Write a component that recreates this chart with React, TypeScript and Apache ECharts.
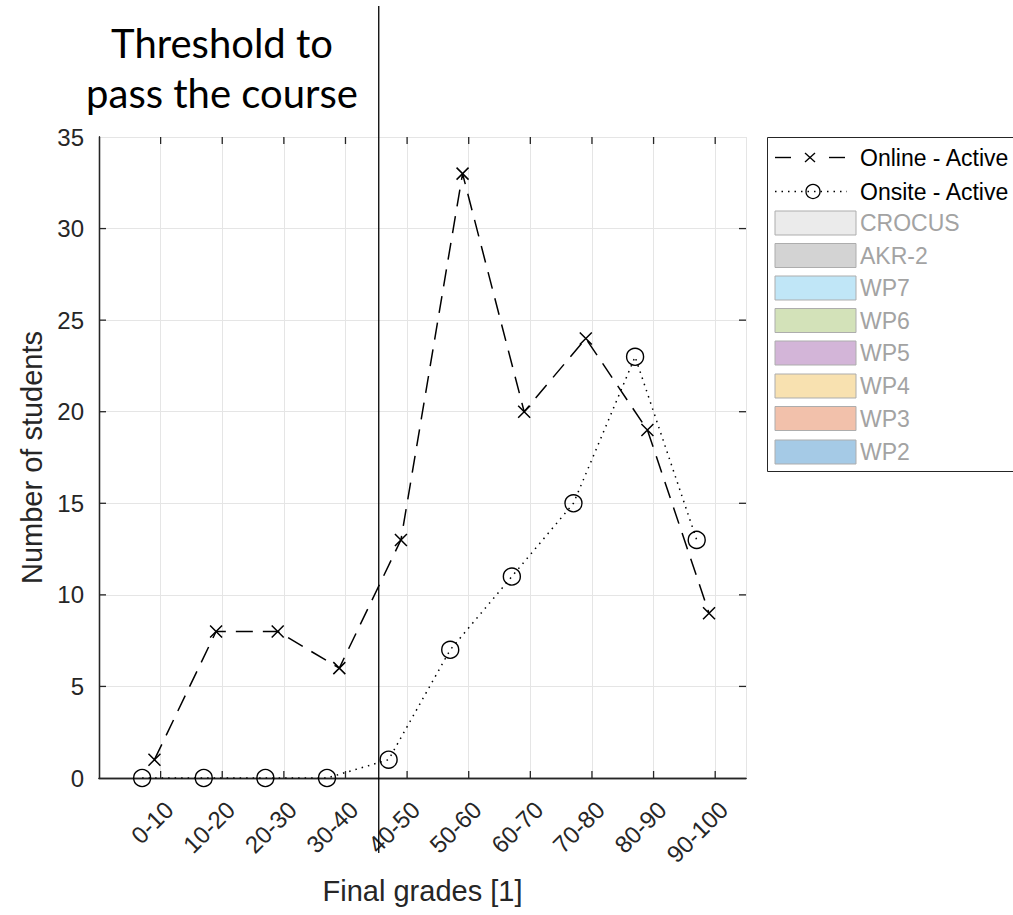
import React, { useEffect, useRef } from 'react';
import * as echarts from 'echarts';

const categories = ['0-10', '10-20', '20-30', '30-40', '40-50', '50-60', '60-70', '70-80', '80-90', '90-100'];
const onlineActive = [1, 8, 8, 6, 13, 33, 20, 24, 19, 9];
const onsiteActive = [0, 0, 0, 0, 1, 7, 11, 15, 23, 13];
const onlineOffset = -0.1;
const onsiteOffset = -0.3;
const thresholdX = 4.54;
const yMin = 0;
const yMax = 35;
const yInterval = 5;
const xMin = 0;
const xMax = 10.5;

const lineLegendNames = ['Online - Active', 'Onsite - Active'];
const patchNames = ['CROCUS', 'AKR-2', 'WP7', 'WP6', 'WP5', 'WP4', 'WP3', 'WP2'];
const patchColors = ['#ebebeb', '#d3d3d3', '#c0e6f7', '#d3e2b9', '#d3b5d8', '#f8e1b0', '#f2c1ab', '#a5cae6'];

const FONT = "'Liberation Sans', Arial, Helvetica, sans-serif";
const AX = '#262626';
const GRID = '#e5e5e5';
const X_PATH = 'path://M0,0L10,10M10,0L0,10';
const TICK_LEN = 7;

export default function App() {
  const ref = useRef<HTMLDivElement>(null);
  useEffect(() => {
    const chart = echarts.init(ref.current!, null, { renderer: 'svg' });
    const fmt = (v: number) => (Number.isInteger(v) && v >= 1 && v <= categories.length ? categories[v - 1] : '');
    chart.setOption({
      animation: false,
      backgroundColor: '#ffffff',
      grid: { left: 99, right: 267, top: 137, bottom: 137, containLabel: false },
      xAxis: [
        {
          type: 'value', min: xMin, max: xMax, interval: 1, position: 'bottom',
          name: 'Final grades [1]', nameLocation: 'middle', nameGap: 98,
          nameTextStyle: { fontFamily: FONT, fontSize: 29, color: AX },
          axisLine: { show: true, lineStyle: { color: AX, width: 1.3 } },
          axisTick: { show: false },
          axisLabel: { formatter: fmt, rotate: 45, margin: 19, verticalAlign: 'top', fontFamily: FONT, fontSize: 24, color: AX, showMinLabel: false, showMaxLabel: false },
          splitLine: { show: true, lineStyle: { color: GRID, width: 1 } },
        },
        {
          type: 'value', min: xMin, max: xMax, interval: 1, position: 'top',
          axisLine: { show: true, lineStyle: { color: AX, width: 1.3 } },
          axisTick: { show: false },
          axisLabel: { show: false },
          splitLine: { show: false },
        },
      ],
      yAxis: [
        {
          type: 'value', min: yMin, max: yMax, interval: yInterval, position: 'left',
          name: 'Number of students', nameLocation: 'middle', nameGap: 51,
          nameTextStyle: { fontFamily: FONT, fontSize: 29, color: AX },
          axisLine: { show: true, lineStyle: { color: AX, width: 1.3 } },
          axisTick: { show: false },
          axisLabel: { margin: 15, fontFamily: FONT, fontSize: 24, color: AX },
          splitLine: { show: true, lineStyle: { color: GRID, width: 1 } },
        },
        {
          type: 'value', min: yMin, max: yMax, interval: yInterval, position: 'right',
          axisLine: { show: true, lineStyle: { color: AX, width: 1.3 } },
          axisTick: { show: false },
          axisLabel: { show: false },
          splitLine: { show: false },
        },
      ],
      series: [
        {
          name: lineLegendNames[0], type: 'line', xAxisIndex: 0, yAxisIndex: 0,
          data: onlineActive.map((v, i) => [i + 1 + onlineOffset, v]),
          symbol: X_PATH, symbolSize: 12,
          itemStyle: { color: 'rgba(0,0,0,0)', borderColor: '#000', borderWidth: 1.5 },
          lineStyle: { color: '#000', width: 1.5, type: [17, 10] },
          z: 3,
        },
        {
          name: lineLegendNames[1], type: 'line', xAxisIndex: 0, yAxisIndex: 0,
          data: onsiteActive.map((v, i) => [i + 1 + onsiteOffset, v]),
          symbol: 'circle', symbolSize: 17,
          itemStyle: { color: 'rgba(0,0,0,0)', borderColor: '#000', borderWidth: 1.4 },
          lineStyle: { color: '#000', width: 1.5, type: [1.5, 5] },
          z: 3,
        },
      ],
    });

    const px = (v: number) => chart.convertToPixel({ xAxisIndex: 0 }, v) as number;
    const py = (v: number) => chart.convertToPixel({ yAxisIndex: 0 }, v) as number;
    const xL = px(xMin);
    const xR = px(xMax);
    const yB = py(yMin);
    const yT = py(yMax);
    const graphics: any[] = [];
    const tickStyle = { stroke: AX, lineWidth: 1.3 };
    // inward ticks on all four sides
    categories.forEach((_, i) => {
      const x = px(i + 1);
      graphics.push({ type: 'line', z: 5, shape: { x1: x, y1: yB, x2: x, y2: yB - TICK_LEN }, style: tickStyle });
      graphics.push({ type: 'line', z: 5, shape: { x1: x, y1: yT, x2: x, y2: yT + TICK_LEN }, style: tickStyle });
    });
    for (let v = yMin + yInterval; v < yMax; v += yInterval) {
      const y = py(v);
      graphics.push({ type: 'line', z: 5, shape: { x1: xL, y1: y, x2: xL + TICK_LEN, y2: y }, style: tickStyle });
      graphics.push({ type: 'line', z: 5, shape: { x1: xR, y1: y, x2: xR - TICK_LEN, y2: y }, style: tickStyle });
    }

    const tx = px(thresholdX);
    graphics.push({
      type: 'line', z: 20,
      shape: { x1: tx, y1: 6, x2: tx, y2: 853 },
      style: { stroke: '#000', lineWidth: 1.3 },
    });
    graphics.push({
      type: 'text', z: 20, x: 222, y: 68,
      style: {
        text: 'Threshold to\npass the course', fill: '#000',
        fontFamily: "Lato, 'Open Sans', sans-serif", fontSize: 40, lineHeight: 50,
        align: 'center', verticalAlign: 'middle',
      },
    });
    // legend
    const lx = 767.5;
    const ly = 137.5;
    graphics.push({
      type: 'rect', z: 20,
      shape: { x: lx, y: ly, width: 300, height: 334 },
      style: { fill: '#fff', stroke: AX, lineWidth: 1 },
    });
    const rowY = [157.5, 191.5, 223, 255.5, 288, 320.5, 353, 386, 418.5, 452];
    const textX = 860;
    const LFS = 23;
    // Online
    const y0 = rowY[0];
    graphics.push({ type: 'line', z: 21, shape: { x1: 775, y1: y0, x2: 791, y2: y0 }, style: { stroke: '#000', lineWidth: 1.4 } });
    graphics.push({ type: 'line', z: 21, shape: { x1: 829, y1: y0, x2: 845, y2: y0 }, style: { stroke: '#000', lineWidth: 1.4 } });
    graphics.push({ type: 'line', z: 21, shape: { x1: 805, y1: y0 - 4.5, x2: 815, y2: y0 + 4.5 }, style: { stroke: '#000', lineWidth: 1.3 } });
    graphics.push({ type: 'line', z: 21, shape: { x1: 815, y1: y0 - 4.5, x2: 805, y2: y0 + 4.5 }, style: { stroke: '#000', lineWidth: 1.3 } });
    graphics.push({ type: 'text', z: 21, x: textX, y: y0, style: { text: lineLegendNames[0], fill: '#000', fontFamily: FONT, fontSize: LFS, verticalAlign: 'middle' } });
    // Onsite
    const y1 = rowY[1];
    graphics.push({ type: 'line', z: 21, shape: { x1: 775, y1: y1, x2: 847, y2: y1 }, style: { stroke: '#000', lineWidth: 1.4, lineDash: [1.5, 5] } });
    graphics.push({ type: 'circle', z: 22, shape: { cx: 813, cy: y1, r: 7 }, style: { fill: 'rgba(0,0,0,0)', stroke: '#000', lineWidth: 1.3 } });
    graphics.push({ type: 'text', z: 21, x: textX, y: y1, style: { text: lineLegendNames[1], fill: '#000', fontFamily: FONT, fontSize: LFS, verticalAlign: 'middle' } });
    patchNames.forEach((name, i) => {
      const cy = rowY[i + 2];
      graphics.push({
        type: 'rect', z: 21,
        shape: { x: 775, y: cy - 12, width: 81, height: 24 },
        style: { fill: patchColors[i], stroke: '#adadad', lineWidth: 1 },
      });
      graphics.push({
        type: 'text', z: 21, x: textX, y: cy,
        style: { text: name, fill: '#a3a3a3', fontFamily: FONT, fontSize: LFS, verticalAlign: 'middle' },
      });
    });
    chart.setOption({ graphic: graphics });
    return () => chart.dispose();
  }, []);
  return <div ref={ref} style={{ position: 'absolute', left: 0, top: 0, width: 1013, height: 915 }} />;
}
